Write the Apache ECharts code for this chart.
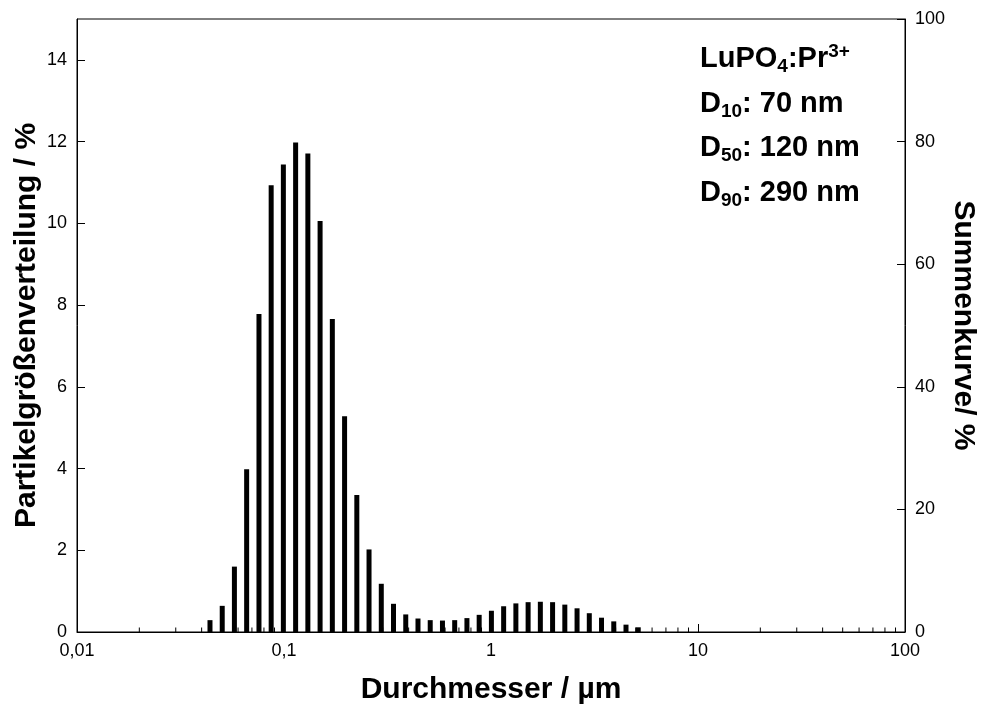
<!DOCTYPE html>
<html>
<head>
<meta charset="utf-8">
<script src="https://cdn.jsdelivr.net/npm/echarts@6/dist/echarts.min.js"></script>
<style>
  html, body { margin: 0; padding: 0; background: #fff; }
  #chart { width: 986px; height: 706px; }
</style>
</head>
<body>
<div id="chart"></div>
<script>
// Particle size classes (µm) of the distribution
const diameters = [
  0.0439, 0.0503, 0.0576, 0.0660, 0.0757, 0.0867, 0.0993, 0.1138, 0.1304,
  0.1494, 0.1712, 0.1962, 0.2248, 0.2575, 0.2951, 0.3381, 0.3874, 0.4439,
  0.5086, 0.5828, 0.6677, 0.7651, 0.8767, 1.0045, 1.1510, 1.3188, 1.5111,
  1.7314, 1.9838, 2.2731, 2.6045, 2.9843, 3.4194, 3.9180, 4.4893, 5.1438
];
// Frequency per size class (%)
const frequency = [
  0.29, 0.64, 1.60, 3.98, 7.78, 10.93, 11.44, 11.98, 11.71,
  10.06, 7.66, 5.28, 3.35, 2.02, 1.18, 0.69, 0.43, 0.33,
  0.29, 0.28, 0.29, 0.34, 0.42, 0.52, 0.63, 0.70, 0.73,
  0.74, 0.73, 0.67, 0.58, 0.46, 0.35, 0.26, 0.18, 0.115
];
// Intermediate ticks of the logarithmic size axis (2..9 per decade)
const minorTickValues = [
  0.02, 0.03, 0.04, 0.05, 0.06, 0.07, 0.08, 0.09,
  0.2, 0.3, 0.4, 0.5, 0.6, 0.7, 0.8, 0.9,
  2, 3, 4, 5, 6, 7, 8, 9,
  20, 30, 40, 50, 60, 70, 80, 90
];

const FONT = 'Liberation Sans, Arial, Helvetica, sans-serif';
const chart = echarts.init(document.getElementById('chart'), null, { renderer: 'canvas' });

const barData = diameters.map((d, i) => [d, frequency[i]]);

const subStyle = { fontFamily: FONT, fontWeight: 'bold', fontSize: 19, color: '#000', padding: [16, 0, 0, 0] };
const supStyle = { fontFamily: FONT, fontWeight: 'bold', fontSize: 19, color: '#000', padding: [0, 0, 14, 0] };
const axisNameStyle = { fontFamily: FONT, fontWeight: 'bold', fontSize: 30, color: '#000' };

chart.setOption({
  backgroundColor: '#fff',
  animation: false,
  grid: {
    left: 77, right: 81, top: 19, bottom: 74,
    containLabel: false,
    outerBoundsMode: 'none',
    show: true, borderColor: '#000', borderWidth: 1, backgroundColor: 'transparent'
  },
  xAxis: {
    type: 'log',
    logBase: 10,
    min: 0.01,
    max: 100,
    name: 'Durchmesser / µm',
    nameLocation: 'middle',
    nameGap: 43,
    nameTextStyle: axisNameStyle,
    axisLine: { show: true, lineStyle: { color: '#000', width: 1 } },
    axisTick: { show: true, inside: true, length: 8, lineStyle: { color: '#000' } },
    axisLabel: {
      fontFamily: FONT, fontSize: 18, color: '#000', margin: 10,
      formatter: v => String(Number(Number(v).toPrecision(3))).replace('.', ',')
    },
    splitLine: { show: false }
  },
  yAxis: [
    {
      type: 'value',
      min: 0, max: 15, interval: 2,
      position: 'left',
      name: 'Partikelgrößenverteilung / %',
      nameLocation: 'middle',
      nameMoveOverlap: false,
      nameGap: 35,
      nameRotate: 90,
      nameTextStyle: axisNameStyle,
      axisLine: { show: true, lineStyle: { color: '#000', width: 1 } },
      axisTick: { show: true, inside: true, length: 8, lineStyle: { color: '#000' } },
      axisLabel: { fontFamily: FONT, fontSize: 18, color: '#000', margin: 10, showMaxLabel: false },
      splitLine: { show: false }
    },
    {
      type: 'value',
      min: 0, max: 100, interval: 20,
      position: 'right',
      name: 'Summenkurve/ %',
      nameLocation: 'middle',
      nameMoveOverlap: false,
      nameGap: 43,
      nameRotate: -90,
      nameTextStyle: axisNameStyle,
      axisLine: { show: true, lineStyle: { color: '#000', width: 1 } },
      axisTick: { show: true, inside: true, length: 8, lineStyle: { color: '#000' } },
      axisLabel: { fontFamily: FONT, fontSize: 18, color: '#000', margin: 10 },
      splitLine: { show: false }
    }
  ],
  series: [
    {
      name: 'q3',
      type: 'bar',
      xAxisIndex: 0,
      yAxisIndex: 0,
      barWidth: 5,
      itemStyle: { color: '#000' },
      data: barData,
      z: 3
    },
    {
      name: 'minor ticks',
      type: 'custom',
      silent: true,
      xAxisIndex: 0,
      yAxisIndex: 0,
      data: minorTickValues.map(v => [v, 0]),
      renderItem: (params, api) => {
        const p = api.coord([api.value(0), 0]);
        return {
          type: 'line',
          shape: { x1: p[0], y1: p[1], x2: p[0], y2: p[1] - 4.5 },
          style: { stroke: '#000', lineWidth: 1 }
        };
      },
      z: 4
    }
  ],
  graphic: [
    {
      type: 'text',
      left: 700,
      top: 37,
      style: {
        text: [
          'LuPO{sub|4}:Pr{sup|3+}',
          'D{sub|10}: 70 nm',
          'D{sub|50}: 120 nm',
          'D{sub|90}: 290 nm'
        ].join('\n'),
        font: 'bold 29px ' + FONT,
        fill: '#000',
        lineHeight: 44.5,
        rich: {
          sub: subStyle,
          sup: supStyle
        }
      }
    }
  ]
});
</script>
</body>
</html>
